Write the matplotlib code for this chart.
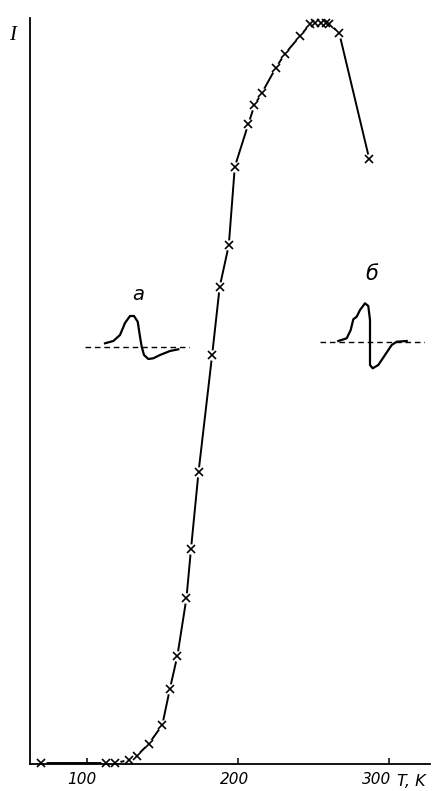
import matplotlib
matplotlib.use("Agg")
import matplotlib.pyplot as plt
import matplotlib.transforms as mtrans

# ---- data ----
T = [70, 113, 119, 128, 133, 141, 150, 155, 160, 166, 169, 174, 183, 188,
     194, 198, 207, 211, 216, 225, 231, 241, 248, 251, 255, 258, 260, 267, 287]
I = [0.13, 0.13, 0.13, 0.54, 1.08, 2.7, 5.26, 10.1, 14.6, 22.4, 29.0, 39.4,
     55.2, 64.4, 70.0, 80.6, 86.4, 88.9, 90.6, 93.9, 95.8, 98.2, 99.9, 100.0,
     100.0, 100.0, 99.9, 98.7, 81.6]
xticks = [100, 200, 300]
xtick_labels = ["100", "200", "300"]

# inset spectra (local units: x along field, y signal; baseline at 0)
a_x = [20, 28.3, 35, 40, 45, 49, 52.7, 55, 56.7, 59, 63.3, 68.3, 75, 85, 93.3]
a_y = [3.7, 6, 12, 24, 31, 31, 25.3, 10.3, 0.3, -8, -12, -11.3, -8, -4, -2.3]
b_x = [18.3, 26.7, 30.7, 33.3, 36.7, 40, 45, 48.3, 50, 50, 50, 52.7, 58.3,
       65, 71.7, 76.7, 86.7]
b_y = [1, 3.7, 12, 22.7, 25.3, 32, 38.7, 36, 22, 0.3, -23, -26.3, -23, -13,
       -3, 0.3, 1]
base_x = [0, 105]
base_y = [0, 0]

W, H = 434, 791
fig = plt.figure(figsize=(W / 100, H / 100), dpi=100)


def px_axes(x0, y0, x1, y1):
    # x0,y0 = left/top pixel; x1,y1 = right/bottom pixel
    return fig.add_axes([x0 / W, 1 - y1 / H, (x1 - x0) / W, (y1 - y0) / H])


ax = px_axes(29.5, 18, 430, 764)
ax.set_xlim(62.16, 327.13)
ax.set_ylim(0, 100.67)
for s in ("top", "right"):
    ax.spines[s].set_visible(False)
ax.spines["left"].set_linewidth(1.3)
ax.spines["bottom"].set_linewidth(1.3)
ax.set_yticks([])
ax.set_xticks(xticks)
ax.set_xticklabels(xtick_labels, fontstyle="italic", fontsize=11,
                   family="DejaVu Sans")
ax.tick_params(axis="x", direction="in", length=4, width=1.1, pad=6)
# shift labels slightly left of their ticks, as in the drawing
shifts_px = [-5, -3, -12]
for lbl, sh in zip(ax.get_xticklabels(), shifts_px):
    off = mtrans.ScaledTranslation(sh / 100, 0, fig.dpi_scale_trans)
    lbl.set_transform(lbl.get_transform() + off)

ax.plot(T, I, color="black", lw=1.4, zorder=2, clip_on=False)
ax.plot(T, I, linestyle="none", marker="o", ms=7.5, mfc="white", mec="none",
        zorder=2.2, clip_on=False)
ax.plot(T, I, linestyle="none", marker="x", ms=5.2, mew=1.2, color="black",
        zorder=3, clip_on=False)

fig.text(13 / W, 1 - 36 / H, "I", family="Liberation Serif", fontstyle="italic",
         fontsize=15, ha="center", va="center")
fig.text(411 / W, 1 - 781 / H, "T, K", family="DejaVu Sans", fontstyle="italic",
         fontsize=11.5, ha="center", va="center")

# inset a
axa = px_axes(85, 307, 190, 367)
axa.set_xlim(0, 105)
axa.set_ylim(-20, 40)
axa.axis("off")
axa.plot(base_x, base_y, color="black", lw=1.0, dashes=(4, 2.8))
axa.plot(a_x, a_y, color="black", lw=1.6)
fig.text(138 / W, 1 - 294 / H, "а", fontstyle="italic", fontsize=14,
         ha="center", va="center")

# inset b
axb = px_axes(320, 302, 425, 372)
axb.set_xlim(0, 105)
axb.set_ylim(-30, 40)
axb.axis("off")
axb.plot(base_x, base_y, color="black", lw=1.0, dashes=(4, 2.8))
axb.plot(b_x, b_y, color="black", lw=1.6)
fig.text(372 / W, 1 - 274 / H, "б", fontstyle="italic", fontsize=15,
         ha="center", va="center")

fig.savefig("out.png", dpi=100)
